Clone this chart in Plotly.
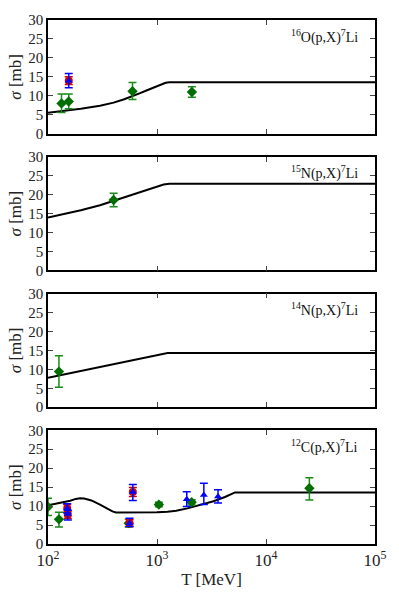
import plotly.graph_objects as go
from plotly.subplots import make_subplots

# model curves (T in MeV, sigma in mb)
o16_T = [100, 150, 200, 300, 400, 500, 600, 700, 800, 900, 1000, 1100, 1200, 1300, 100000]
o16_sig = [5.5, 6.1, 6.6, 7.4, 8.2, 9.1, 9.9, 10.7, 11.4, 12.0, 12.6, 13.1, 13.45, 13.6, 13.6]

n15_T = [100, 150, 200, 300, 400, 500, 600, 800, 1000, 1150, 1300, 100000]
n15_sig = [14.0, 15.1, 15.9, 17.2, 18.4, 19.3, 20.0, 21.3, 22.2, 22.7, 22.9, 22.9]

n14_T = [100, 1250, 100000]
n14_sig = [7.8, 14.3, 14.3]

c12_T = [100, 130, 160, 180, 196, 215, 250, 300, 350, 390, 420, 500, 700, 1000, 1250,
         1500, 1900, 2500, 3300, 4200, 4800, 5200, 100000]
c12_sig = [10.2, 10.8, 11.4, 11.9, 12.1, 12.0, 11.5, 10.4, 9.3, 8.6, 8.3, 8.3, 8.4, 8.4, 8.5,
           8.8, 9.4, 10.3, 11.3, 12.4, 13.2, 13.6, 13.6]

# measurements
o16_green_T = [133, 155, 596, 2090]
o16_green = [8.0, 8.5, 11.2, 11.0]
o16_green_up = [2.5, 2.0, 2.3, 1.4]
o16_green_dn = [2.4, 1.9, 2.2, 1.4]
o16_red_T = [155]
o16_red = [14.0]
o16_red_err = [1.0]
o16_blue_T = [155]
o16_blue = [14.0]
o16_blue_err = [1.9]

n15_green_T = [400]
n15_green = [18.6]
n15_green_err = [1.8]

n14_green_T = [126]
n14_green = [9.4]
n14_green_up = [4.2]
n14_green_dn = [4.1]

c12_green_T = [100, 126, 550, 1040, 2080, 25000]
c12_green = [9.8, 6.5, 5.5, 10.4, 11.0, 14.7]
c12_green_up = [2.3, 1.9, 1.0, 0.6, 0.7, 2.8]
c12_green_dn = [2.3, 2.0, 1.0, 0.6, 0.7, 3.1]
c12_red_T = [150, 152, 560, 600]
c12_red = [9.4, 7.7, 5.5, 13.7]
c12_red_err = [1.0, 1.0, 0.9, 1.2]
c12_blue_T = [150, 152, 560, 600, 1875, 2690, 3630]
c12_blue = [9.4, 7.9, 5.5, 13.7, 11.8, 12.9, 12.5]
c12_blue_up = [1.2, 1.0, 1.3, 2.0, 2.0, 3.1, 1.8]
c12_blue_dn = [1.2, 1.6, 0.9, 2.2, 1.9, 2.5, 1.7]

labels = ["<sup>16</sup>O(p,X)<sup>7</sup>Li", "<sup>15</sup>N(p,X)<sup>7</sup>Li",
          "<sup>14</sup>N(p,X)<sup>7</sup>Li", "<sup>12</sup>C(p,X)<sup>7</sup>Li"]

GREEN = "#006f00"
GREEN_BAR = "#1a8c1a"
RED = "#d40000"
BLUE = "#0000ff"
FONT = "Liberation Serif"

fig = make_subplots(rows=4, cols=1, vertical_spacing=0.044)


def curve(T, s, row):
    fig.add_trace(go.Scatter(x=T, y=s, mode="lines", line=dict(color="black", width=2),
                             showlegend=False), row=row, col=1)


def points(T, s, up, dn, row, color, bar, symbol, size):
    fig.add_trace(go.Scatter(
        x=T, y=s, mode="markers",
        marker=dict(color=color, symbol=symbol, size=size, line=dict(width=0)),
        error_y=dict(type="data", array=up, arrayminus=dn, color=bar, thickness=1.5, width=4),
        showlegend=False), row=row, col=1)


curve(o16_T, o16_sig, 1)
points(o16_green_T, o16_green, o16_green_up, o16_green_dn, 1, GREEN, GREEN_BAR, "diamond", 8)
points(o16_red_T, o16_red, o16_red_err, o16_red_err, 1, RED, RED, "circle", 8)
points(o16_blue_T, o16_blue, o16_blue_err, o16_blue_err, 1, BLUE, BLUE, "triangle-up", 7)

curve(n15_T, n15_sig, 2)
points(n15_green_T, n15_green, n15_green_err, n15_green_err, 2, GREEN, GREEN_BAR, "diamond", 8)

curve(n14_T, n14_sig, 3)
points(n14_green_T, n14_green, n14_green_up, n14_green_dn, 3, GREEN, GREEN_BAR, "diamond", 8)

curve(c12_T, c12_sig, 4)
points(c12_green_T, c12_green, c12_green_up, c12_green_dn, 4, GREEN, GREEN_BAR, "diamond", 8)
points(c12_red_T, c12_red, c12_red_err, c12_red_err, 4, RED, RED, "circle", 8)
points(c12_blue_T, c12_blue, c12_blue_up, c12_blue_dn, 4, BLUE, BLUE, "triangle-up", 7)

for r in range(1, 5):
    fig.update_xaxes(type="log", range=[2, 5], tickvals=[100, 1000, 10000, 100000],
                     ticktext=["10<sup>2</sup>", "10<sup>3</sup>", "10<sup>4</sup>", "10<sup>5</sup>"],
                     showticklabels=(r == 4), ticks="inside", ticklen=5, tickwidth=1,
                     ticklabeloverflow="allow", tickfont=dict(size=17),
                     showline=True, linecolor="black", linewidth=1.5, mirror="ticks",
                     showgrid=False, zeroline=False, row=r, col=1)
    fig.update_yaxes(range=[0, 30], tickvals=[0, 5, 10, 15, 20, 25, 30],
                     ticks="inside", ticklen=5, tickwidth=1,
                     showline=True, linecolor="black", linewidth=1.5, mirror="ticks",
                     showgrid=False, zeroline=False,
                     title=dict(text="<i>σ</i> [mb]", standoff=2, font=dict(size=17)),
                     row=r, col=1)
    fig.add_annotation(text=labels[r - 1], xref="x%s domain" % ("" if r == 1 else r),
                       yref="y%s domain" % ("" if r == 1 else r), x=0.955, y=0.96,
                       xanchor="right", yanchor="top", showarrow=False,
                       font=dict(size=14, family=FONT, color="#111"))

fig.update_xaxes(title=dict(text="T [MeV]", font=dict(size=17), standoff=4), row=4, col=1)

fig.update_layout(
    width=399, height=598,
    margin=dict(l=48, r=17, t=14, b=48),
    plot_bgcolor="white", paper_bgcolor="white",
    font=dict(family=FONT, size=15, color="#222"),
    showlegend=False,
)

# page body has a default 8px margin; drop it so the figure sits at the window corner
fig.write_html("out.html", config={"displayModeBar": False},
               post_script="document.body.style.margin='0';")
